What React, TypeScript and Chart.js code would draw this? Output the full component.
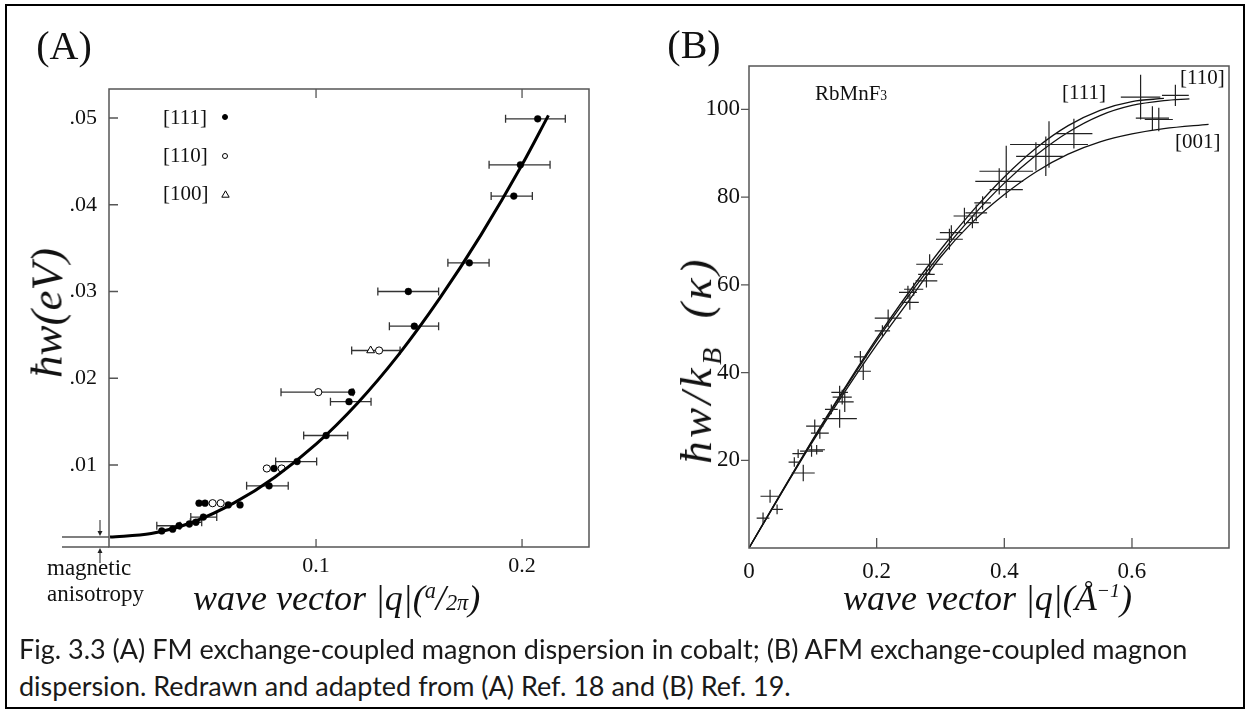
import React, { useEffect, useRef } from "react";
import { Chart, registerables } from "chart.js";

Chart.register(...registerables);

const SERIF = '"Liberation Serif", "Times New Roman", serif';
const SANS = 'Lato, "Open Sans", sans-serif';

// ---------------- Panel A (cobalt, FM) ----------------
const A_X_TICKS = [0.1, 0.2];
const A_X_TICK_LABELS = ["0.1", "0.2"];
const A_Y_TICKS = [0.01, 0.02, 0.03, 0.04, 0.05];
const A_Y_TICK_LABELS = [".01", ".02", ".03", ".04", ".05"];
const A_ANISOTROPY = 0.0017;

const A_FIT_Q = [0, 0.02, 0.04, 0.06, 0.08, 0.1, 0.12, 0.14, 0.16, 0.18, 0.2, 0.2128];
const A_FIT_E = [0.0017, 0.0021, 0.0034, 0.0056, 0.0086, 0.0124, 0.0171, 0.0227, 0.0292, 0.0365, 0.0446, 0.0503];

// [111] filled circles
const A111_Q = [0.2076, 0.1992, 0.196, 0.1744, 0.1448, 0.1477, 0.1173, 0.116, 0.1049, 0.0908, 0.0796, 0.0772, 0.0432, 0.0461, 0.0574, 0.0631, 0.0453, 0.0417, 0.0385, 0.0335, 0.0304, 0.0251];
const A111_E = [0.0499, 0.0446, 0.041, 0.0333, 0.03, 0.026, 0.0184, 0.0173, 0.0134, 0.0104, 0.0096, 0.0076, 0.0056, 0.0056, 0.0054, 0.0054, 0.004, 0.0034, 0.0032, 0.003, 0.0026, 0.0024];
const A111_QLO = [0.192, 0.184, 0.185, 0.164, 0.13, 0.1356, null, 0.107, 0.094, 0.0804, null, 0.0663, null, null, null, null, 0.0392, 0.039, null, 0.0227, null, null];
const A111_QHI = [0.221, 0.2136, 0.205, 0.184, 0.1595, 0.1595, null, 0.1267, 0.1154, 0.1003, null, 0.0865, null, null, null, null, 0.0518, 0.0445, null, 0.034, null, null];

// [110] open circles
const A110_Q = [0.1011, 0.1306, 0.0761, 0.0833, 0.0498, 0.0537];
const A110_E = [0.0184, 0.0232, 0.0096, 0.0096, 0.0056, 0.0056];
const A110_QLO = [0.083, 0.1173, null, null, null, null];
const A110_QHI = [0.118, 0.1408, null, null, null, null];

// [100] triangles
const A100_Q = [0.1265];
const A100_E = [0.0232];

// ---------------- Panel B (RbMnF3, AFM) ----------------
const B_X_TICKS = [0, 0.2, 0.4, 0.6];
const B_X_TICK_LABELS = ["0", "0.2", "0.4", "0.6"];
const B_Y_TICKS = [20, 40, 60, 80, 100];
const B_Y_TICK_LABELS = ["20", "40", "60", "80", "100"];

const B111_Q = [0, 0.05, 0.1, 0.15, 0.2, 0.25, 0.3, 0.35, 0.4, 0.45, 0.5, 0.55, 0.6, 0.65];
const B111_E = [0, 12.5, 24.8, 36.5, 47.8, 58.2, 68, 76.8, 84.6, 91.2, 96.3, 99.8, 101.8, 102.5];
const B110_Q = [0, 0.05, 0.1, 0.15, 0.2, 0.25, 0.3, 0.35, 0.4, 0.45, 0.5, 0.55, 0.6, 0.65, 0.69];
const B110_E = [0, 12.4, 24.6, 36.2, 47.3, 57.5, 67, 75.6, 83.2, 89.6, 94.8, 98.6, 100.9, 102, 102.4];
const B001_Q = [0, 0.05, 0.1, 0.15, 0.2, 0.25, 0.3, 0.35, 0.4, 0.45, 0.5, 0.55, 0.6, 0.65, 0.72];
const B001_E = [0, 12.3, 24.3, 35.6, 46.3, 56.3, 66.3, 74.3, 80.6, 85.8, 89.8, 92.6, 94.4, 95.6, 96.6];

const BX_Q = [0.022, 0.033, 0.044, 0.071, 0.077, 0.085, 0.098, 0.106, 0.103, 0.111, 0.129, 0.142, 0.142, 0.146, 0.15, 0.1745, 0.179, 0.209, 0.218, 0.249, 0.252, 0.258, 0.278, 0.278, 0.283, 0.314, 0.317, 0.3375, 0.35, 0.356, 0.366, 0.403, 0.392, 0.403, 0.4495, 0.465, 0.47, 0.509, 0.6135, 0.632, 0.642, 0.668];
const BX_E = [6.8, 11.8, 8.8, 19.6, 21.5, 17.1, 22.1, 22.4, 27.8, 26.2, 31.6, 29.5, 35.5, 34.4, 33.3, 43.6, 40.3, 49.5, 52.4, 58.3, 56, 59, 60.9, 62.4, 64.7, 70.4, 71.9, 75.7, 74.2, 76.4, 78.7, 85.9, 83.6, 81.7, 89.3, 89.3, 92, 94.5, 102.8, 98, 97.7, 103.2];
const BX_DQ = [0.01, 0.015, 0.009, 0.009, 0.009, 0.018, 0.018, 0.013, 0.0135, 0.014, 0.01, 0.027, 0.013, 0.015, 0.014, 0.01, 0.012, 0.012, 0.021, 0.014, 0.014, 0.015, 0.017, 0.013, 0.021, 0.021, 0.018, 0.017, 0.01, 0.017, 0.013, 0.042, 0.0375, 0.026, 0.031, 0.027, 0.061, 0.029, 0.031, 0.026, 0.022, 0.021];
const BX_DE = [1.3, 1.5, 1.1, 1.1, 1.0, 1.9, 1.3, 1.1, 1.5, 1.3, 1.1, 2.1, 1.5, 1.7, 2.3, 1.3, 2.0, 1.3, 2.0, 1.5, 1.7, 1.5, 1.5, 1.5, 2.3, 2.4, 1.7, 1.9, 1.3, 1.9, 1.5, 5.8, 3.0, 1.9, 3.2, 4.5, 5.3, 3.4, 5.1, 2.7, 2.7, 2.4];

const pts = (xs: number[], ys: number[]) => xs.map((x, i) => ({ x, y: ys[i] }));

const fixTicks = (vals: number[]) => (scale: any) => {
  scale.ticks = vals.map((v) => ({ value: v }));
};

const AXIS = "#555";

const panelAPlugin = {
  id: "panelA",
  beforeDatasetsDraw(chart: any) {
    const { ctx, scales } = chart;
    const x = scales.x, y = scales.y;
    ctx.save();
    ctx.strokeStyle = "#333";
    ctx.lineWidth = 1.3;
    const bars = (es: number[], lo: (number | null)[], hi: (number | null)[]) => {
      es.forEach((e, i) => {
        const l = lo[i], h = hi[i];
        if (l == null || h == null) return;
        const py = y.getPixelForValue(e);
        const x1 = x.getPixelForValue(l), x2 = x.getPixelForValue(h);
        ctx.beginPath();
        ctx.moveTo(x1, py); ctx.lineTo(x2, py);
        ctx.moveTo(x1, py - 4); ctx.lineTo(x1, py + 4);
        ctx.moveTo(x2, py - 4); ctx.lineTo(x2, py + 4);
        ctx.stroke();
      });
    };
    bars(A111_E, A111_QLO, A111_QHI);
    bars(A110_E, A110_QLO, A110_QHI);
    ctx.restore();
  },
  afterDraw(chart: any) {
    const { ctx, chartArea: a, scales } = chart;
    const x = scales.x, y = scales.y;
    ctx.save();
    ctx.strokeStyle = AXIS;
    ctx.lineWidth = 1.5;
    ctx.beginPath();
    ctx.rect(a.left, a.top, a.right - a.left, a.bottom - a.top);
    ctx.stroke();
    // extended bottom axis and anisotropy level
    const ya = y.getPixelForValue(A_ANISOTROPY);
    ctx.beginPath();
    ctx.moveTo(62, a.bottom); ctx.lineTo(a.left, a.bottom);
    ctx.moveTo(62, ya); ctx.lineTo(a.left, ya);
    ctx.stroke();
    // ticks
    ctx.lineWidth = 1.3;
    ctx.beginPath();
    A_Y_TICKS.forEach((v) => {
      const py = y.getPixelForValue(v);
      ctx.moveTo(a.left, py); ctx.lineTo(a.left + 9, py);
    });
    A_X_TICKS.forEach((v) => {
      const px = x.getPixelForValue(v);
      ctx.moveTo(px, a.bottom); ctx.lineTo(px, a.bottom - 8);
      ctx.moveTo(px, a.top); ctx.lineTo(px, a.top + 9);
    });
    ctx.stroke();
    // arrows marking anisotropy gap
    const ax = 100;
    ctx.strokeStyle = "#222";
    ctx.fillStyle = "#222";
    ctx.lineWidth = 1;
    ctx.beginPath();
    ctx.moveTo(ax, ya - 17); ctx.lineTo(ax, ya - 3);
    ctx.moveTo(ax, a.bottom + 16); ctx.lineTo(ax, a.bottom + 3);
    ctx.stroke();
    ctx.beginPath();
    ctx.moveTo(ax, ya - 1); ctx.lineTo(ax - 2.5, ya - 6); ctx.lineTo(ax + 2.5, ya - 6); ctx.closePath();
    ctx.moveTo(ax, a.bottom + 1); ctx.lineTo(ax - 2.5, a.bottom + 6); ctx.lineTo(ax + 2.5, a.bottom + 6); ctx.closePath();
    ctx.fill();
    ctx.restore();
  },
};

const panelBPlugin = {
  id: "panelB",
  afterDatasetsDraw(chart: any) {
    const { ctx, scales } = chart;
    const x = scales.x, y = scales.y;
    ctx.save();
    ctx.strokeStyle = "#222";
    ctx.lineWidth = 1.2;
    ctx.beginPath();
    BX_Q.forEach((q, i) => {
      const e = BX_E[i];
      const px = x.getPixelForValue(q), py = y.getPixelForValue(e);
      const x1 = x.getPixelForValue(q - BX_DQ[i]), x2 = x.getPixelForValue(q + BX_DQ[i]);
      const y1 = y.getPixelForValue(e - BX_DE[i]), y2 = y.getPixelForValue(e + BX_DE[i]);
      ctx.moveTo(x1, py); ctx.lineTo(x2, py);
      ctx.moveTo(px, y1); ctx.lineTo(px, y2);
    });
    ctx.stroke();
    ctx.restore();
  },
  afterDraw(chart: any) {
    const { ctx, chartArea: a, scales } = chart;
    const x = scales.x, y = scales.y;
    ctx.save();
    ctx.strokeStyle = AXIS;
    ctx.lineWidth = 1.5;
    ctx.beginPath();
    ctx.rect(a.left, a.top, a.right - a.left, a.bottom - a.top);
    ctx.stroke();
    ctx.lineWidth = 1.3;
    ctx.beginPath();
    B_Y_TICKS.forEach((v) => {
      const py = y.getPixelForValue(v);
      ctx.moveTo(a.left, py); ctx.lineTo(a.left - 8, py);
    });
    B_X_TICKS.forEach((v) => {
      if (v === 0) return;
      const px = x.getPixelForValue(v);
      ctx.moveTo(px, a.bottom); ctx.lineTo(px, a.bottom - 10);
    });
    ctx.stroke();
    ctx.restore();
  },
};

function configA(): any {
  return {
    type: "scatter",
    data: {
      datasets: [
        {
          label: "fit",
          data: pts(A_FIT_Q, A_FIT_E),
          showLine: true,
          borderColor: "#000",
          borderWidth: 3,
          pointRadius: 0,
          cubicInterpolationMode: "monotone",
        },
        {
          label: "[111]",
          data: pts(A111_Q, A111_E),
          pointStyle: "circle",
          pointRadius: 3.4,
          backgroundColor: "#000",
          borderColor: "#000",
          borderWidth: 0.5,
        },
        {
          label: "[110]",
          data: pts(A110_Q, A110_E),
          pointStyle: "circle",
          pointRadius: 3.6,
          backgroundColor: "#fff",
          borderColor: "#000",
          borderWidth: 1,
        },
        {
          label: "[100]",
          data: pts(A100_Q, A100_E),
          pointStyle: "triangle",
          pointRadius: 4.5,
          backgroundColor: "#fff",
          borderColor: "#000",
          borderWidth: 1,
        },
      ],
    },
    options: {
      animation: false,
      responsive: false,
      maintainAspectRatio: false,
      events: [],
      layout: { padding: { left: 59, top: 89, right: 31, bottom: 53 } },
      plugins: { legend: { display: false }, tooltip: { enabled: false } },
      scales: {
        x: {
          type: "linear",
          min: -0.0005,
          max: 0.2325,
          afterBuildTicks: fixTicks(A_X_TICKS),
          afterFit: (s: any) => { s.height = 40; },
          grid: { display: false, drawTicks: false },
          border: { display: false },
          ticks: {
            padding: 6,
            maxRotation: 0,
            autoSkip: false,
            color: "#111",
            font: { family: SERIF, size: 22 },
            callback: (_v: any, i: number) => A_X_TICK_LABELS[i],
          },
        },
        y: {
          type: "linear",
          min: 0.00055,
          max: 0.05334,
          afterBuildTicks: fixTicks(A_Y_TICKS),
          afterFit: (s: any) => { s.width = 50; },
          grid: { display: false, drawTicks: false },
          border: { display: false },
          ticks: {
            padding: 12,
            autoSkip: false,
            color: "#111",
            font: { family: SERIF, size: 22 },
            callback: (_v: any, i: number) => A_Y_TICK_LABELS[i],
          },
        },
      },
    },
    plugins: [panelAPlugin],
  };
}

function configB(): any {
  const curve = (label: string, xs: number[], ys: number[]) => ({
    label,
    data: pts(xs, ys),
    showLine: true,
    borderColor: "#111",
    borderWidth: 1.3,
    pointRadius: 0,
    cubicInterpolationMode: "monotone",
  });
  return {
    type: "scatter",
    data: {
      datasets: [
        curve("[111]", B111_Q, B111_E),
        curve("[110]", B110_Q, B110_E),
        curve("[001]", B001_Q, B001_E),
        { label: "data", data: pts(BX_Q, BX_E), pointRadius: 0 },
      ],
    },
    options: {
      animation: false,
      responsive: false,
      maintainAspectRatio: false,
      events: [],
      layout: { padding: { left: 69, top: 66, right: 21, bottom: 52 } },
      plugins: { legend: { display: false }, tooltip: { enabled: false } },
      scales: {
        x: {
          type: "linear",
          min: 0,
          max: 0.752,
          afterBuildTicks: fixTicks(B_X_TICKS),
          afterFit: (s: any) => { s.height = 40; },
          grid: { display: false, drawTicks: false },
          border: { display: false },
          ticks: {
            padding: 10,
            maxRotation: 0,
            autoSkip: false,
            color: "#111",
            font: { family: SERIF, size: 23 },
            callback: (_v: any, i: number) => B_X_TICK_LABELS[i],
          },
        },
        y: {
          type: "linear",
          min: 0,
          max: 109.9,
          afterBuildTicks: fixTicks(B_Y_TICKS),
          afterFit: (s: any) => { s.width = 60; },
          grid: { display: false, drawTicks: false },
          border: { display: false },
          ticks: {
            padding: 9,
            autoSkip: false,
            color: "#111",
            font: { family: SERIF, size: 23 },
            callback: (_v: any, i: number) => B_Y_TICK_LABELS[i],
          },
        },
      },
    },
    plugins: [panelBPlugin],
  };
}

const abs = (left: number, top: number, extra: React.CSSProperties = {}): React.CSSProperties => ({
  position: "absolute",
  left,
  top,
  whiteSpace: "nowrap",
  lineHeight: 1,
  ...extra,
});

export default function App() {
  const refA = useRef<HTMLCanvasElement>(null);
  const refB = useRef<HTMLCanvasElement>(null);

  useEffect(() => {
    const ca = new Chart(refA.current as HTMLCanvasElement, configA());
    const cb = new Chart(refB.current as HTMLCanvasElement, configB());
    return () => {
      ca.destroy();
      cb.destroy();
    };
  }, []);

  const serif: React.CSSProperties = { fontFamily: SERIF, color: "#111" };
  const italic: React.CSSProperties = { fontFamily: SERIF, fontStyle: "italic", color: "#111" };
  const dot = (filled: boolean): React.CSSProperties => ({
    position: "absolute",
    width: 6,
    height: 6,
    borderRadius: "50%",
    boxSizing: "border-box",
    border: "1px solid #000",
    background: filled ? "#000" : "#fff",
  });
  const caption: React.CSSProperties = { fontFamily: SANS, fontSize: 27, color: "#1a1a1a", transform: "translateY(-50%)" };

  return (
    <div style={{ position: "absolute", left: 0, top: 0, width: 1250, height: 715, background: "#fff", overflow: "hidden" }}>
      <div style={{ position: "absolute", left: 5, top: 4, width: 1240, height: 705, border: "2px solid #000", boxSizing: "border-box" }} />
      <canvas ref={refA} width={620} height={640} style={{ position: "absolute", left: 0, top: 0 }} />
      <canvas ref={refB} width={630} height={640} style={{ position: "absolute", left: 620, top: 0 }} />

      {/* panel labels */}
      <div style={abs(64, 46, { ...serif, fontSize: 40, transform: "translate(-50%,-50%)" })}>(A)</div>
      <div style={abs(694, 45, { ...serif, fontSize: 40, transform: "translate(-50%,-50%)" })}>(B)</div>

      {/* panel A legend */}
      <div style={abs(163, 117, { ...serif, fontSize: 21, transform: "translateY(-50%)" })}>[111]</div>
      <div style={abs(163, 155, { ...serif, fontSize: 21, transform: "translateY(-50%)" })}>[110]</div>
      <div style={abs(163, 193, { ...serif, fontSize: 21, transform: "translateY(-50%)" })}>[100]</div>
      <div style={{ ...dot(true), left: 222, top: 114 }} />
      <div style={{ ...dot(false), left: 222, top: 153 }} />
      <svg style={{ position: "absolute", left: 221, top: 190 }} width={9} height={8}>
        <polygon points="4.5,0.8 8.2,7.2 0.8,7.2" fill="#fff" stroke="#000" strokeWidth={1} />
      </svg>

      {/* panel A axis titles */}
      <div style={abs(47, 313, { ...italic, fontSize: 45, transform: "translate(-50%,-50%) rotate(-90deg)" })}>ħw(eV)</div>
      <div style={abs(193, 580, { ...italic, fontSize: 36 })}>
        wave vector |q|(<sup style={{ fontSize: "62%", verticalAlign: "0.55em" }}>a</sup>/<span style={{ fontSize: "62%" }}>2π</span>)
      </div>
      <div style={abs(47, 567, { ...serif, fontSize: 23, transform: "translateY(-50%)" })}>magnetic</div>
      <div style={abs(47, 593, { ...serif, fontSize: 23, transform: "translateY(-50%)" })}>anisotropy</div>

      {/* panel B annotations */}
      <div style={abs(815, 93, { ...serif, fontSize: 21, transform: "translateY(-50%)" })}>
        RbMnF<span style={{ fontSize: "65%" }}>3</span>
      </div>
      <div style={abs(1062, 92, { ...serif, fontSize: 21, transform: "translateY(-50%)" })}>[111]</div>
      <div style={abs(1180, 77, { ...serif, fontSize: 21, transform: "translateY(-50%)" })}>[110]</div>
      <div style={abs(1175, 141, { ...serif, fontSize: 21, transform: "translateY(-50%)" })}>[001]</div>

      {/* panel B axis titles */}
      <div style={abs(700, 360, { ...italic, fontSize: 45, letterSpacing: 3.5, transform: "translate(-50%,-50%) rotate(-90deg)" })}>
        ħw/k<sub style={{ fontSize: "62%" }}>B</sub>{"\u2002"}(κ)
      </div>
      <div style={abs(843, 580, { ...italic, fontSize: 36 })}>
        wave vector |q|(Å<sup style={{ fontSize: "55%" }}>−1</sup>)
      </div>

      {/* caption */}
      <div style={abs(19, 648, caption)}>
        Fig. 3.3 (A) FM exchange-coupled magnon dispersion in cobalt; (B) AFM exchange-coupled magnon
      </div>
      <div style={abs(19, 685, caption)}>
        dispersion. Redrawn and adapted from (A) Ref. 18 and (B) Ref. 19.
      </div>
    </div>
  );
}
